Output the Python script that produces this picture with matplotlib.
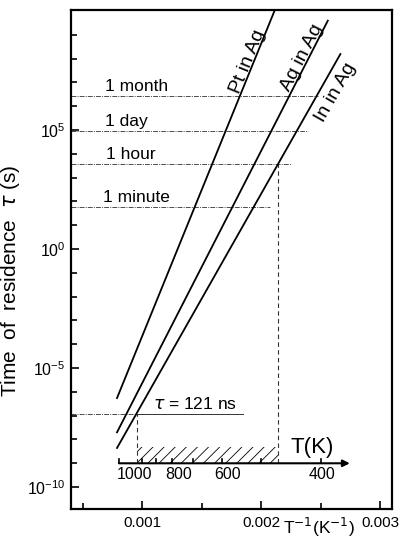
import numpy as np
import matplotlib
matplotlib.use('Agg')
import matplotlib.pyplot as plt

plt.rcParams['font.family'] = ['Liberation Sans', 'DejaVu Sans']
plt.rcParams['hatch.linewidth'] = 0.6

# residence time lines (1/T in K^-1, tau in s)
systems = ['Pt in Ag', 'Ag in Ag', 'In in Ag']
invT_start = [0.000787, 0.000787, 0.000787]
invT_end = [0.00213, 0.00256, 0.002666]
tau_start = [5.5e-7, 2.0e-8, 4.4e-9]
tau_end = [1.7e10, 3.9e9, 1.55e8]
label_invT = [0.00193, 0.00239, 0.002518]

# reference times
ref_labels = ['1 month', '1 day', '1 hour', '1 minute']
ref_times = [2.6e6, 8.64e4, 3.6e3, 60]
ref_end = [0.00248, 0.00239, 0.00225, 0.00207]
ref_label_x = [0.000686, 0.000686, 0.000695, 0.000670]

tau_min = 121e-9
tau_line_end = 0.00185
invT_cross_lo = 0.000955
invT_cross_hi = 0.00214

# temperature scale inset
T_major = [1000, 800, 600, 400]
T_minor = [900, 700, 500]
T_label_shift = [-6, 5, 4, 1]   # points, labels sit a bit off their ticks
T_axis_tau = 1e-9
T_axis_x = [0.000803, 0.002745]
hatch_top = 4.9e-9

fig = plt.figure(figsize=(3.99, 5.41), dpi=100)
ax = fig.add_axes([71/399, 1-509/541, 321/399, 499/541])
ax.set_yscale('log')
ax.set_xlim(0.0004, 0.0031)
ax.set_ylim(10**-10.92, 10**10.04)

for sp in ax.spines.values():
    sp.set_linewidth(1.6)

ax.set_xticks([0.001, 0.002, 0.003])
ax.set_xticklabels(['0.001', '0.002', '0.003'])
ax.set_xticks([0.0005, 0.0015, 0.0025], minor=True)
ax.set_yticks([1e-10, 1e-5, 1e0, 1e5])
ax.set_yticklabels([r'$\mathregular{10^{-10}}$', r'$\mathregular{10^{-5}}$',
                    r'$\mathregular{10^{0}}$', r'$\mathregular{10^{5}}$'])
ax.set_yticks([10.0**k for k in range(-10, 10) if k % 5 != 0], minor=True)
ax.yaxis.set_minor_formatter(matplotlib.ticker.NullFormatter())
ax.tick_params(which='both', direction='in', width=1.2, labelsize=11)
ax.tick_params(axis='y', labelsize=11.5)
ax.tick_params(which='major', length=6)
ax.tick_params(which='minor', length=4)
ax.tick_params(axis='x', pad=5)
ax.tick_params(axis='y', pad=4)

ax.set_ylabel(r'Time  of  residence  $\tau$ (s)', fontsize=15)
ax.yaxis.set_label_coords(-0.153, 0.457)
ax.text(0.773, -0.036, r'T$^{-1}$(K$^{-1}$)', transform=ax.transAxes,
        ha='center', va='center', fontsize=12.5)

# reference time lines
for lab, t, xe, xl in zip(ref_labels, ref_times, ref_end, ref_label_x):
    ax.plot([0.0004, xe], [t, t], color='0.3', lw=0.7, ls=(0, (5, 1.2, 1, 1.2)))
    ax.annotate(lab, (xl, t), xytext=(0, 1.5), textcoords='offset points',
                ha='left', va='bottom', fontsize=12.5)

# tau = 121 ns line
ax.plot([0.0004, invT_cross_lo], [tau_min, tau_min], color='0.3', lw=0.7,
        ls=(0, (5, 1.2, 1, 1.2)))
ax.plot([invT_cross_lo, tau_line_end], [tau_min, tau_min], color='0.2', lw=0.7)
ax.annotate(r'$\tau$ = 121 ns', (0.00109, tau_min), xytext=(0, 1.5),
            textcoords='offset points', ha='left', va='bottom', fontsize=12.5)

# vertical dashed lines
ax.plot([invT_cross_lo, invT_cross_lo], [T_axis_tau, tau_min], color='0.2',
        lw=0.8, ls=(0, (4, 3)))
ax.plot([invT_cross_hi, invT_cross_hi], [T_axis_tau, ref_times[2]], color='0.2',
        lw=0.8, ls=(0, (4, 3)))

# hatched range
ax.fill_between([invT_cross_lo, invT_cross_hi], T_axis_tau, hatch_top,
                facecolor='none', edgecolor='k', hatch='///', lw=0)

# temperature axis
ax.annotate('', xy=(T_axis_x[1], T_axis_tau), xytext=(T_axis_x[0], T_axis_tau),
            arrowprops=dict(arrowstyle='-|>', lw=1.5, color='k',
                            mutation_scale=10, shrinkA=0, shrinkB=0))
tick_top = T_axis_tau * 10**0.2
ax.plot([T_axis_x[0], T_axis_x[0]], [T_axis_tau, tick_top], color='k', lw=1.2)
for T in T_major + T_minor:
    ax.plot([1/T, 1/T], [T_axis_tau, tick_top], color='k', lw=1.2)
for T, dx in zip(T_major, T_label_shift):
    ax.annotate(str(T), (1/T, T_axis_tau), xytext=(dx, -3),
                textcoords='offset points', ha='center', va='top', fontsize=11.5)
ax.text(0.002425, 10**-8.32, 'T(K)', ha='center', va='center', fontsize=16)

# residence time lines
for name, x0, x1, t0, t1, xl in zip(systems, invT_start, invT_end, tau_start,
                                     tau_end, label_invT):
    ax.plot([x0, x1], [t0, t1], color='k', lw=1.3)
    p0 = ax.transData.transform((x0, t0))
    p1 = ax.transData.transform((x1, t1))
    ang = np.degrees(np.arctan2(p1[1] - p0[1], p1[0] - p0[0]))
    ly = 10**(np.log10(t0) + (xl - x0) * (np.log10(t1) - np.log10(t0)) / (x1 - x0))
    if name == 'In in Ag':
        ax.annotate(name, (xl, ly), xytext=(4, -2), textcoords='offset points',
                    rotation=ang, rotation_mode='anchor', ha='center',
                    va='top', fontsize=14)
    else:
        ax.annotate(name, (xl, ly), xytext=(-1, 0.5), textcoords='offset points',
                    rotation=ang, rotation_mode='anchor', ha='center',
                    va='baseline', fontsize=14)

fig.savefig('out.png', dpi=100)
